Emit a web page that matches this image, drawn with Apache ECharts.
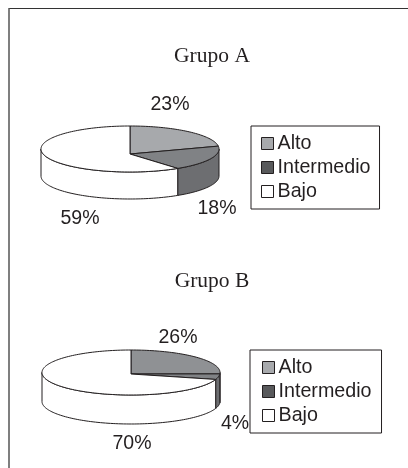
<!DOCTYPE html>
<html>
<head>
<meta charset="utf-8">
<style>html,body{margin:0;padding:0;background:#fff}#chart{width:408px;height:468px}</style>
<script src="https://cdn.jsdelivr.net/npm/echarts@6/dist/echarts.min.js"></script>
</head>
<body>
<div id="chart"></div>
<script>
// Survey shares per group, drawn as two tilted pies
const categories = ['Alto', 'Intermedio', 'Bajo'];
const grupoA = [23, 18, 59];
const grupoB = [26, 4, 70];
const groupTitles = ['Grupo A', 'Grupo B'];

const topColors = [['#a7a9ac', '#808285', '#ffffff'], ['#8f9194', '#808285', '#ffffff']];
const wallColors = ['#a7a9ac', '#6d6e71', '#ffffff'];
const legendColors = ['#a7a9ac', '#58595b', '#ffffff'];
const edge = '#231f20';

// Geometry of each tilted disc
const discs = [
  { cx: 130, cy: 149, rx: 89, ry: 23, depth: 27, apexX: 130, apexY: 154 },
  { cx: 131, cy: 372.5, rx: 89, ry: 22.5, depth: 29, apexX: 131, apexY: 374 }
];
// Percent label centres, relative to the disc centre
const labelOffsets = [
  [[40, -44.5], [87, 60], [-50, 70]],
  [[47, -34.5], [104, 51.5], [1, 71.5]]
];

const TAU = Math.PI * 2;

// Angle is measured clockwise from the top of the disc
function rim(d, a, dy) {
  return [d.cx + d.rx * Math.sin(a), d.cy - d.ry * Math.cos(a) + (dy || 0)];
}
function arcPoints(d, from, to, dy) {
  const n = Math.max(2, Math.ceil(Math.abs(to - from) / 0.03));
  const pts = [];
  for (let i = 0; i <= n; i++) pts.push(rim(d, from + (to - from) * i / n, dy));
  return pts;
}

function pieSeries(groupIndex, values) {
  const total = values.reduce((s, v) => s + v, 0);
  const d = discs[groupIndex];
  let acc = 0;
  return values.map((v, i) => {
    const startShare = acc;
    acc += v;
    return {
      type: 'custom',
      name: categories[i],
      coordinateSystem: 'none',
      silent: true,
      animation: false,
      itemStyle: { color: legendColors[i] },
      data: [[v]],
      renderItem(params, api) {
        const from = startShare / total * TAU;
        const to = from + api.value(0) / total * TAU;
        const children = [];
        // Side wall: only the part of the slice on the near half of the disc
        const wFrom = Math.max(from, Math.PI / 2);
        const wTo = Math.min(to, Math.PI * 1.5);
        if (wTo > wFrom) {
          const upper = arcPoints(d, wFrom, wTo, 0);
          const lower = arcPoints(d, wTo, wFrom, d.depth);
          children.push({
            type: 'polygon',
            shape: { points: upper.concat(lower) },
            style: { fill: wallColors[i], stroke: edge, lineWidth: 1 }
          });
        }
        // Top face
        children.push({
          type: 'polygon',
          shape: { points: [[d.apexX, d.apexY]].concat(arcPoints(d, from, to, 0)) },
          style: { fill: topColors[groupIndex][i], stroke: edge, lineWidth: 1 }
        });
        // Percent label
        const off = labelOffsets[groupIndex][i];
        children.push({
          type: 'text',
          x: d.cx + off[0],
          y: d.cy + off[1],
          style: {
            text: api.value(0) + '%',
            fill: '#231f20',
            font: '19.5px "Liberation Sans", Arial, sans-serif',
            align: 'center',
            verticalAlign: 'middle'
          }
        });
        return { type: 'group', children };
      }
    };
  });
}

function legendBox(left, top, padLeft, padRight) {
  return {
    orient: 'vertical',
    left, top,
    icon: 'rect',
    itemWidth: 12,
    itemHeight: 12,
    itemGap: 1,
    padding: [6, padRight, 6, padLeft],
    selectedMode: false,
    backgroundColor: '#fff',
    borderColor: edge,
    borderWidth: 1,
    borderRadius: 0,
    inactiveColor: '#fff',
    itemStyle: { borderColor: edge, borderWidth: 1 },
    textStyle: {
      color: '#231f20',
      fontFamily: '"Liberation Sans", Arial, sans-serif',
      fontSize: 19.7,
      lineHeight: 23,
      padding: [0, 0, 0, -1]
    },
    data: categories.map((name, i) => ({ name, itemStyle: { color: legendColors[i] } }))
  };
}

const titleBase = { left: 212, textAlign: 'center', padding: 0 };
const titleText = { fontFamily: '"Liberation Serif", serif', fontSize: 21.5, fontWeight: 'normal', color: '#231f20' };

const chart = echarts.init(document.getElementById('chart'), null, { renderer: 'canvas' });
chart.setOption({
  animation: false,
  backgroundColor: '#fff',
  title: [
    { ...titleBase, top: 45, text: groupTitles[0], textStyle: titleText },
    { ...titleBase, top: 270, text: groupTitles[1], textStyle: titleText }
  ],
  legend: [legendBox(251, 126, 10, 9), legendBox(250, 350, 12, 10)],
  // Page frame: open on the right and at the bottom
  graphic: [
    { type: 'line', silent: true, shape: { x1: 9, y1: 8.5, x2: 408, y2: 8.5 }, style: { stroke: '#333', lineWidth: 1 } },
    { type: 'line', silent: true, shape: { x1: 9, y1: 8, x2: 9, y2: 468 }, style: { stroke: '#555', lineWidth: 1.5 } }
  ],
  series: pieSeries(0, grupoA).concat(pieSeries(1, grupoB))
});
</script>
</body>
</html>
